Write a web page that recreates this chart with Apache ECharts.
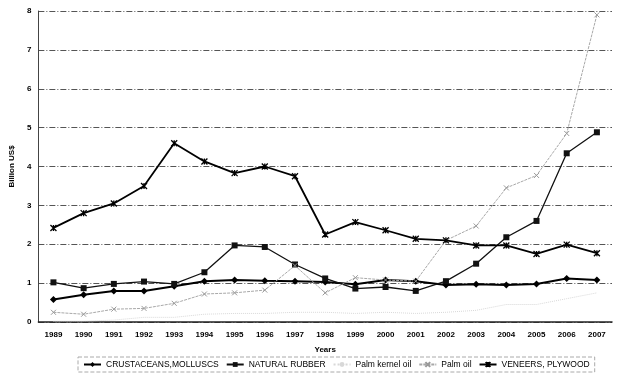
<!DOCTYPE html>
<html><head><meta charset="utf-8">
<script src="https://cdn.jsdelivr.net/npm/echarts@6/dist/echarts.min.js"></script>
<style>html,body{margin:0;padding:0;background:#fff}#c{width:621px;height:379px}</style>
</head><body><div id="c"></div>
<script>
const years = ['1989','1990','1991','1992','1993','1994','1995','1996','1997','1998','1999','2000','2001','2002','2003','2004','2005','2006','2007'];
const crustaceans = [0.58,0.70,0.80,0.80,0.92,1.05,1.08,1.06,1.05,1.03,0.97,1.08,1.05,0.95,0.97,0.95,0.98,1.12,1.08];
const naturalRubber = [1.02,0.87,0.98,1.04,0.98,1.28,1.97,1.93,1.48,1.12,0.86,0.90,0.80,1.05,1.50,2.18,2.60,4.34,4.88];
const palmKernelOil = [0.02,0.02,0.05,0.12,0.12,0.20,0.22,0.22,0.25,0.25,0.22,0.25,0.22,0.25,0.30,0.45,0.45,0.60,0.75];
const palmOil = [0.25,0.20,0.33,0.35,0.48,0.72,0.75,0.82,1.45,0.75,1.14,1.08,1.05,2.10,2.47,3.45,3.77,4.85,7.90];
const veneers = [2.42,2.80,3.05,3.50,4.60,4.13,3.83,4.00,3.75,2.25,2.57,2.36,2.14,2.10,1.97,1.97,1.75,1.99,1.77];
const yTicks = [0,1,2,3,4,5,6,7,8];

const xMark = 'path://M0,0L10,10M10,0L0,10';
const starMark = 'path://M0,0L10,10M10,0L0,10M5,0L5,10';
const chart = echarts.init(document.getElementById('c'));
chart.setOption({
  animation:false,
  textStyle:{fontFamily:'Liberation Sans, Arial, sans-serif'},
  grid:{left:37,right:9,top:11,bottom:57,containLabel:false},
  xAxis:{type:'category',data:years,boundaryGap:true,
    name:'Years',nameLocation:'middle',nameGap:24,
    nameTextStyle:{fontSize:8,fontWeight:'bold',color:'#000'},
    axisLine:{lineStyle:{color:'#222',width:1.5}},
    axisTick:{show:false},
    axisLabel:{fontSize:8,fontWeight:'bold',color:'#000',margin:9,interval:0}},
  yAxis:{type:'value',min:0,max:8,interval:1,
    name:'Billion US$',nameLocation:'middle',nameGap:12,
    nameTextStyle:{fontSize:8,fontWeight:'bold',color:'#000'},
    axisLine:{show:true,lineStyle:{color:'#444',width:1}},
    axisTick:{show:false},
    axisLabel:{fontSize:8,fontWeight:'bold',color:'#000',margin:7,
      formatter:v=>yTicks.includes(v)?String(v):''},
    splitLine:{lineStyle:{color:'#555',type:[6,2,1,2],width:1}}},
  legend:{bottom:7,left:78,itemWidth:17,itemHeight:6,itemGap:7,
    borderColor:'#aaa',borderWidth:1,borderType:'dashed',padding:[3,5],
    textStyle:{fontSize:8.5,color:'#000'},
    data:['CRUSTACEANS,MOLLUSCS','NATURAL RUBBER','Palm kernel oil','Palm oil','VENEERS, PLYWOOD']},
  series:[
    {name:'CRUSTACEANS,MOLLUSCS',type:'line',data:crustaceans,symbol:'diamond',symbolSize:7,
      lineStyle:{color:'#000',width:2},itemStyle:{color:'#000'}},
    {name:'NATURAL RUBBER',type:'line',data:naturalRubber,symbol:'rect',symbolSize:6,
      lineStyle:{color:'#111',width:1.3},itemStyle:{color:'#111'}},
    {name:'Palm kernel oil',type:'line',data:palmKernelOil,symbol:'none',
      lineStyle:{color:'#d8d8d8',width:1,type:'dotted'},itemStyle:{color:'#d8d8d8'}},
    {name:'Palm oil',type:'line',data:palmOil,symbol:xMark,symbolSize:5,
      lineStyle:{color:'#a8a8a8',width:1,type:[3,1]},
      itemStyle:{color:'#999',borderColor:'#999',borderWidth:1}},
    {name:'VENEERS, PLYWOOD',type:'line',data:veneers,symbol:starMark,symbolSize:6,
      lineStyle:{color:'#000',width:1.8},
      itemStyle:{color:'#000',borderColor:'#000',borderWidth:1.3}}
  ]
});
</script></body></html>
